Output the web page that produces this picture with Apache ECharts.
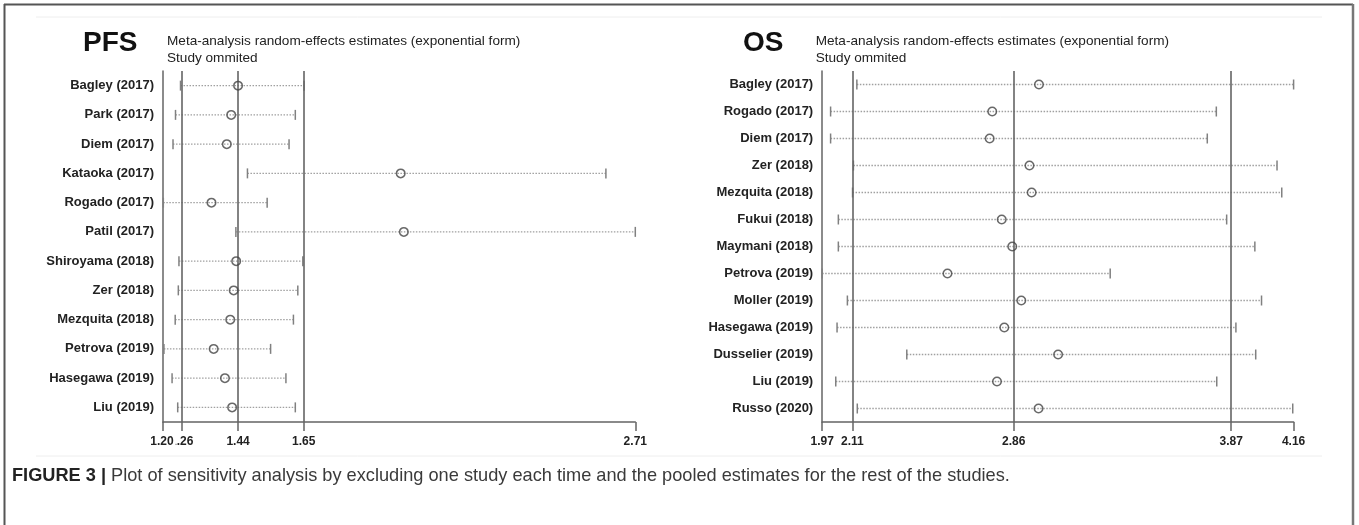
<!DOCTYPE html>
<html><head><meta charset="utf-8">
<script src="https://cdn.jsdelivr.net/npm/echarts@6/dist/echarts.min.js"></script>
<style>html,body{margin:0;padding:0;background:#fff;}#c{width:1359px;height:525px;}</style>
</head><body><div id="c"></div>
<script>
// ---------- PFS panel data ----------
const pfsStudies = ['Bagley (2017)','Park (2017)','Diem (2017)','Kataoka (2017)','Rogado (2017)','Patil (2017)','Shiroyama (2018)','Zer (2018)','Mezquita (2018)','Petrova (2019)','Hasegawa (2019)','Liu (2019)'];
const pfsEst   = [1.440,1.418,1.404,1.960,1.355,1.970,1.434,1.426,1.415,1.362,1.398,1.421];
const pfsLower = [1.256,1.240,1.232,1.470,1.201,1.433,1.251,1.249,1.239,1.203,1.229,1.247];
const pfsUpper = [1.651,1.623,1.603,2.616,1.533,2.710,1.647,1.631,1.617,1.544,1.593,1.623];
const pfsRefLines = [1.26,1.44,1.65];
const pfsTicks = [1.20,1.26,1.44,1.65,2.71];

// ---------- OS panel data ----------
const osStudies = ['Bagley (2017)','Rogado (2017)','Diem (2017)','Zer (2018)','Mezquita (2018)','Fukui (2018)','Maymani (2018)','Petrova (2019)','Moller (2019)','Hasegawa (2019)','Dusselier (2019)','Liu (2019)','Russo (2020)'];
const osEst   = [2.977,2.760,2.748,2.933,2.943,2.804,2.853,2.552,2.895,2.816,3.066,2.782,2.975];
const osLower = [2.131,2.009,2.009,2.115,2.111,2.045,2.045,1.970,2.087,2.039,2.363,2.033,2.133];
const osUpper = [4.160,3.801,3.759,4.083,4.105,3.849,3.980,3.308,4.011,3.892,3.984,3.803,4.156];
const osRefLines = [2.11,2.86,3.87];
const osTicks = [1.97,2.11,2.86,3.87,4.16];

const titleTexts = ['PFS','OS'];
const subLine1 = 'Meta-analysis random-effects estimates (exponential form)';
const subLine2 = 'Study ommited';
const captionBold = 'FIGURE 3 |';
const captionText = ' Plot of sensitivity analysis by excluding one study each time and the pooled estimates for the rest of the studies.';

const FONT = '"Liberation Sans", Arial, sans-serif';
const AX = '#646464';

function whisker(params, api) {
  const y = api.value(1);
  const lo = api.coord([api.value(0), y]);
  const hi = api.coord([api.value(2), y]);
  const h = 5;
  return {type:'group', children:[
    {type:'line', shape:{x1:lo[0],y1:lo[1],x2:hi[0],y2:hi[1]}, style:{stroke:'#a0a0a0',lineWidth:1.3,lineDash:[1.5,1.5]}},
    {type:'line', shape:{x1:lo[0],y1:lo[1]-h,x2:lo[0],y2:lo[1]+h}, style:{stroke:'#808080',lineWidth:1.5}},
    {type:'line', shape:{x1:hi[0],y1:hi[1]-h,x2:hi[0],y2:hi[1]+h}, style:{stroke:'#808080',lineWidth:1.5}}
  ]};
}

const labelStyle = {margin:14, color:'#222', fontFamily:FONT, fontSize:12, fontWeight:'bold',
  formatter:(v)=>Number(v).toFixed(2), hideOverlap:false, showMinLabel:true, showMaxLabel:true};

function xAxisCfg(idx, ticks, labelVals) {
  return {
    gridIndex: idx, type:'value', min: ticks[0], max: ticks[ticks.length-1],
    splitLine:{show:false},
    axisLine:{show:true, onZero:false, lineStyle:{color:AX, width:1.5}},
    axisTick:{show:true, customValues:ticks, length:9, lineStyle:{color:AX, width:1.5}},
    axisLabel:Object.assign({show:true, customValues:labelVals}, labelStyle)
  };
}
// overlay axis (same scale) drawn on top so that close-together tick labels are all drawn
function xAxisOverlay(idx, ticks, labelVals, bg) {
  return {
    gridIndex: idx, type:'value', min: ticks[0], max: ticks[ticks.length-1], position:'bottom', z:10,
    splitLine:{show:false}, axisLine:{show:false}, axisTick:{show:false},
    axisLabel:Object.assign({show:true, customValues:labelVals}, labelStyle,
      bg ? {backgroundColor:'#fff', padding:[0,2,0,0]} : {})
  };
}
function yAxisCfg(idx, names) {
  return {
    gridIndex: idx, type:'category', data:names, inverse:true, boundaryGap:true,
    axisLine:{show:true, lineStyle:{color:AX, width:1.5}},
    axisTick:{show:false}, splitLine:{show:false},
    axisLabel:{margin:9, color:'#222', fontFamily:FONT, fontSize:13, fontWeight:'bold', interval:0}
  };
}
function seriesFor(idx, est, lower, upper, refs) {
  const wData = lower.map((l,i)=>[l, i, upper[i]]);
  const pData = est.map((e,i)=>[e, i]);
  return [
    {type:'custom', xAxisIndex:idx, yAxisIndex:idx, renderItem:whisker, data:wData,
     encode:{x:[0,2], y:1}, clip:false, silent:true, z:2},
    {type:'scatter', xAxisIndex:idx, yAxisIndex:idx, data:pData, symbol:'circle', symbolSize:8.5,
     itemStyle:{color:'rgba(255,255,255,0)', borderColor:'#444', borderWidth:1.5}, z:4, silent:true,
     markLine:{silent:true, symbol:['none','none'], label:{show:false}, z:3,
       lineStyle:{color:AX, width:1.6, type:'solid'},
       data: refs.map(r=>({xAxis:r}))}}
  ];
}

const chart = echarts.init(document.getElementById('c'), null, {renderer:'canvas'});
const tx = (x,y,text,size,weight,color)=>({type:'text', x, y, style:{text, fontFamily:FONT, fontSize:size, fontWeight:weight||'normal', fill:color||'#222', verticalAlign:'middle', align:'left'}});
const ln = (x1,y1,x2,y2,color,w)=>({type:'line', shape:{x1,y1,x2,y2}, style:{stroke:color, lineWidth:w}});

chart.setOption({
  animation:false,
  backgroundColor:'#fff',
  grid:[
    {left:163, top:71, width:472.3, height:351, outerBoundsMode:'none'},
    {left:822.2, top:71, width:471.4, height:351, outerBoundsMode:'none'}
  ],
  xAxis:[
    xAxisCfg(0,pfsTicks,[pfsTicks[1],pfsTicks[2],pfsTicks[3],pfsTicks[4]]),
    xAxisCfg(1,osTicks,[osTicks[0],osTicks[2],osTicks[3],osTicks[4]]),
    xAxisOverlay(0,pfsTicks,[pfsTicks[0]],true),
    xAxisOverlay(1,osTicks,[osTicks[1]],false)
  ],
  yAxis:[yAxisCfg(0,pfsStudies), yAxisCfg(1,osStudies)],
  series:[...seriesFor(0,pfsEst,pfsLower,pfsUpper,pfsRefLines), ...seriesFor(1,osEst,osLower,osUpper,osRefLines)],
  graphic:[
    ln(4.5,4,4.5,525,'#555',2), ln(4,4.5,1353,4.5,'#555',2), ln(1353,4,1353,525,'#777',2.5),
    ln(36,17,1322,17,'#eeeeee',1), ln(36,456,1322,456,'#eeeeee',1),
    tx(83,43,titleTexts[0],28,'bold','#111'),
    tx(167,41.7,subLine1,13.6,'normal','#222'),
    tx(167,58.3,subLine2,13.6,'normal','#222'),
    tx(743,43,titleTexts[1],28,'bold','#111'),
    tx(815.7,41.7,subLine1,13.6,'normal','#222'),
    tx(815.7,58.3,subLine2,13.6,'normal','#222'),
    {type:'text', x:12, y:476, style:{text:'{b|'+captionBold+'}{n|'+captionText+'}', verticalAlign:'middle', align:'left',
      rich:{b:{fontFamily:FONT, fontSize:18.2, fontWeight:'bold', fill:'#222'}, n:{fontFamily:FONT, fontSize:18.2, fill:'#3a3a3a'}}}}
  ]
});
</script></body></html>
